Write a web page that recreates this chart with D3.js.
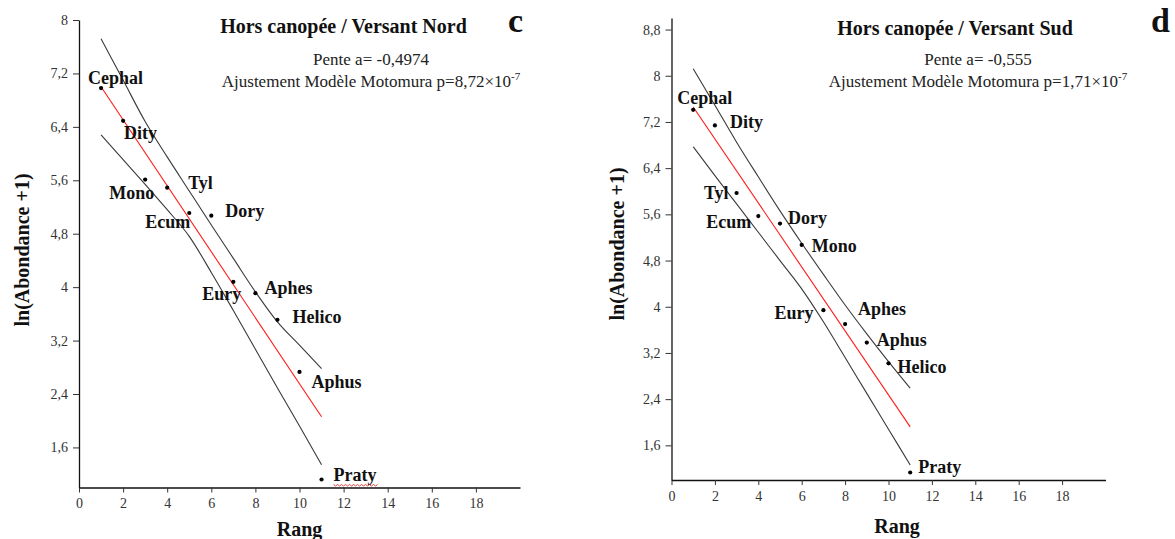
<!DOCTYPE html>
<html>
<head>
<meta charset="utf-8">
<script src="https://cdn.jsdelivr.net/npm/d3@7"></script>
<style>
  html, body { margin: 0; padding: 0; background: #fff; }
  svg { display: block; font-family: "Liberation Serif", "Times New Roman", serif; }
  .tick text { font-family: "Liberation Serif", "Times New Roman", serif; font-size: 14px; }
</style>
</head>
<body>
<svg id="chart" width="1175" height="539"></svg>
<script>
// ---------------- DATA ----------------
const ranks = [1, 2, 3, 4, 5, 6, 7, 8, 9, 10, 11];
const fitRanks = [1, 11];

// Panel c : Hors canopée / Versant Nord
const northSpecies = ["Cephal", "Dity", "Mono", "Tyl", "Ecum", "Dory", "Eury", "Aphes", "Helico", "Aphus", "Praty"];
const northValues  = [6.98, 6.49, 5.61, 5.49, 5.11, 5.07, 4.08, 3.91, 3.51, 2.73, 1.12];
const northFit     = [7.00, 2.06];
const northUpper   = [7.72, 7.10, 6.48, 5.95, 5.44, 4.93, 4.43, 3.93, 3.48, 3.13, 2.78];
const northLower   = [6.28, 5.91, 5.54, 5.16, 4.76, 4.22, 3.65, 3.07, 2.49, 1.92, 1.34];

// Panel d : Hors canopée / Versant Sud
const southSpecies = ["Cephal", "Dity", "Tyl", "Ecum", "Dory", "Mono", "Eury", "Aphes", "Aphus", "Helico", "Praty"];
const southValues  = [7.41, 7.14, 5.97, 5.57, 5.44, 5.07, 3.94, 3.70, 3.38, 3.02, 1.13];
const southFit     = [7.46, 1.92];
const southUpper   = [8.12, 7.49, 6.85, 6.25, 5.66, 5.10, 4.56, 4.03, 3.53, 3.05, 2.59];
const southLower   = [6.77, 6.27, 5.78, 5.29, 4.80, 4.31, 3.74, 3.12, 2.50, 1.88, 1.26];

// Axis ticks
const xTicks = [0, 2, 4, 6, 8, 10, 12, 14, 16, 18];
const xTickLabels = ["0", "2", "4", "6", "8", "10", "12", "14", "16", "18"];
const northYTicks = [1.6, 2.4, 3.2, 4, 4.8, 5.6, 6.4, 7.2, 8];
const northYTickLabels = ["1,6", "2,4", "3,2", "4", "4,8", "5,6", "6,4", "7,2", "8"];
const southYTicks = [1.6, 2.4, 3.2, 4, 4.8, 5.6, 6.4, 7.2, 8, 8.8];
const southYTickLabels = ["1,6", "2,4", "3,2", "4", "4,8", "5,6", "6,4", "7,2", "8", "8,8"];

// Texts
const northTitle = "Hors canopée / Versant Nord";
const southTitle = "Hors canopée / Versant Sud";
const northSlope = "Pente a= -0,4974";
const southSlope = "Pente a= -0,555";
const northFitText = ["Ajustement Modèle Motomura p=8,72×10", "-7"];
const southFitText = ["Ajustement Modèle Motomura p=1,71×10", "-7"];
const yTitle = "ln(Abondance +1)";
const xTitle = "Rang";

// ---------------- LAYOUT / STYLE ----------------
const svg = d3.select("#chart");
const SERIF = "'Liberation Serif', 'Times New Roman', serif";

const panels = [
  {
    species: northSpecies, values: northValues, fit: northFit, upper: northUpper, lower: northLower,
    yTicks: northYTicks, yTickLabels: northYTickLabels,
    title: northTitle, slope: northSlope, fitText: northFitText, letter: "c",
    xRange: [79, 520], yDomain: [1, 8], yRange: [487.5, 20],
    titleX: 343.5, titleY: 33, letterX: 508, letterY: 32,
    annX: 371, slopeY: 65, fitY: 87,
    yTitleX: 29, yTitleY: 250, xTitleX: 299.5, xTitleY: 536,
    labelOffsets: {
      Cephal: [-13, -4, "start"], Dity: [1, 18, "start"], Mono: [-36, 19, "start"],
      Tyl: [21, 1, "start"], Ecum: [-44, 15, "start"], Dory: [14, 1, "start"],
      Eury: [-31, 18, "start"], Aphes: [9, 1, "start"], Helico: [15, 3, "start"],
      Aphus: [12, 16, "start"], Praty: [12, 2, "start"]
    },
    wavy: "Praty"
  },
  {
    species: southSpecies, values: southValues, fit: southFit, upper: southUpper, lower: southLower,
    yTicks: southYTicks, yTickLabels: southYTickLabels,
    title: southTitle, slope: southSlope, fitText: southFitText, letter: "d",
    xRange: [671.5, 1105.5], yDomain: [1, 9], yRange: [480, 18],
    titleX: 955, titleY: 35, letterX: 1151, letterY: 32,
    annX: 978, slopeY: 65, fitY: 87,
    yTitleX: 624, yTitleY: 244, xTitleX: 897, xTitleY: 533,
    labelOffsets: {
      Cephal: [-16, -6, "start"], Dity: [15, 3, "start"], Tyl: [-8, 6, "end"],
      Ecum: [-7, 12, "end"], Dory: [8, 0, "start"], Mono: [10, 7, "start"],
      Eury: [-10, 9, "end"], Aphes: [13, -9, "start"], Aphus: [10, 3, "start"],
      Helico: [9, 10, "start"], Praty: [8, 1, "start"]
    },
    wavy: null
  }
];

panels.forEach(p => {
  const x = d3.scaleLinear().domain([0, 20]).range(p.xRange);
  const y = d3.scaleLinear().domain(p.yDomain).range(p.yRange);
  const g = svg.append("g");

  // Axes
  const xAxis = d3.axisBottom(x).tickValues(xTicks)
    .tickFormat((d, i) => xTickLabels[i]).tickSize(5).tickPadding(6).tickSizeOuter(0);
  const yAxis = d3.axisLeft(y).tickValues(p.yTicks)
    .tickFormat((d, i) => p.yTickLabels[i]).tickSize(6).tickPadding(5).tickSizeOuter(0);

  const gx = g.append("g").attr("transform", `translate(0,${p.yRange[0]})`).call(xAxis);
  const gy = g.append("g").attr("transform", `translate(${p.xRange[0]},0)`).call(yAxis);
  [gx, gy].forEach(a => {
    a.attr("font-family", SERIF).attr("font-size", 14);
    a.select(".domain").attr("stroke", "#111").attr("stroke-width", 1.3);
    a.selectAll(".tick line").attr("stroke", "#333");
    a.selectAll(".tick text").attr("fill", "#333")
      .attr("font-family", SERIF).attr("font-size", 14);
  });

  // Confidence bands (black) and fitted line (red)
  const line = d3.line().x(d => x(d[0])).y(d => y(d[1])).curve(d3.curveMonotoneX);
  g.append("path").datum(ranks.map((r, i) => [r, p.upper[i]]))
    .attr("d", line).attr("fill", "none").attr("stroke", "#3a3a3a").attr("stroke-width", 1.1);
  g.append("path").datum(ranks.map((r, i) => [r, p.lower[i]]))
    .attr("d", line).attr("fill", "none").attr("stroke", "#3a3a3a").attr("stroke-width", 1.1);
  g.append("path").datum(fitRanks.map((r, i) => [r, p.fit[i]]))
    .attr("d", d3.line().x(d => x(d[0])).y(d => y(d[1])))
    .attr("fill", "none").attr("stroke", "#ff1a1a").attr("stroke-width", 1.1);

  const pts = ranks.map((r, i) => ({ r, v: p.values[i], s: p.species[i] }));

  // Points
  g.selectAll("circle.pt").data(pts)
    .join("circle").attr("class", "pt")
    .attr("cx", d => x(d.r)).attr("cy", d => y(d.v)).attr("r", 2.1).attr("fill", "#000");

  // Species labels
  g.selectAll("text.sp").data(pts)
    .join("text").attr("class", "sp")
    .attr("x", d => x(d.r) + p.labelOffsets[d.s][0])
    .attr("y", d => y(d.v) + p.labelOffsets[d.s][1])
    .attr("text-anchor", d => p.labelOffsets[d.s][2])
    .style("font-size", "18px").style("font-weight", "bold").attr("fill", "#111")
    .text(d => d.s)
    .each(function (d) {
      if (d.s === p.wavy) {
        const bb = this.getBBox();
        const y0 = bb.y + bb.height - 1;
        let path = `M${bb.x},${y0}`;
        for (let xx = bb.x, k = 0; xx < bb.x + bb.width; xx += 2, k++) {
          path += ` L${xx + 2},${y0 + (k % 2 === 0 ? 1.5 : 0)}`;
        }
        g.append("path").attr("d", path).attr("fill", "none")
          .attr("stroke", "#e0302a").attr("stroke-width", 0.9);
      }
    });

  // Title and letter
  g.append("text").attr("x", p.titleX).attr("y", p.titleY).attr("text-anchor", "middle")
    .style("font-size", "20px").style("font-weight", "bold").attr("fill", "#111").text(p.title);
  g.append("text").attr("x", p.letterX).attr("y", p.letterY)
    .style("font-size", "34px").style("font-weight", "bold").attr("fill", "#111").text(p.letter);

  // Annotations
  g.append("text").attr("x", p.annX).attr("y", p.slopeY).attr("text-anchor", "middle")
    .style("font-size", "17px").attr("fill", "#222").text(p.slope);
  const ft = g.append("text").attr("x", p.annX).attr("y", p.fitY).attr("text-anchor", "middle")
    .style("font-size", "17px").attr("fill", "#222");
  ft.append("tspan").text(p.fitText[0]);
  ft.append("tspan").attr("dy", -7).style("font-size", "11px").text(p.fitText[1]);

  // Axis titles
  g.append("text").attr("transform", `translate(${p.yTitleX},${p.yTitleY}) rotate(-90)`)
    .attr("text-anchor", "middle").style("font-size", "20px").style("font-weight", "bold")
    .attr("fill", "#111").text(yTitle);
  g.append("text").attr("x", p.xTitleX).attr("y", p.xTitleY).attr("text-anchor", "middle")
    .style("font-size", "20px").style("font-weight", "bold").attr("fill", "#111").text(xTitle);
});
</script>
</body>
</html>
